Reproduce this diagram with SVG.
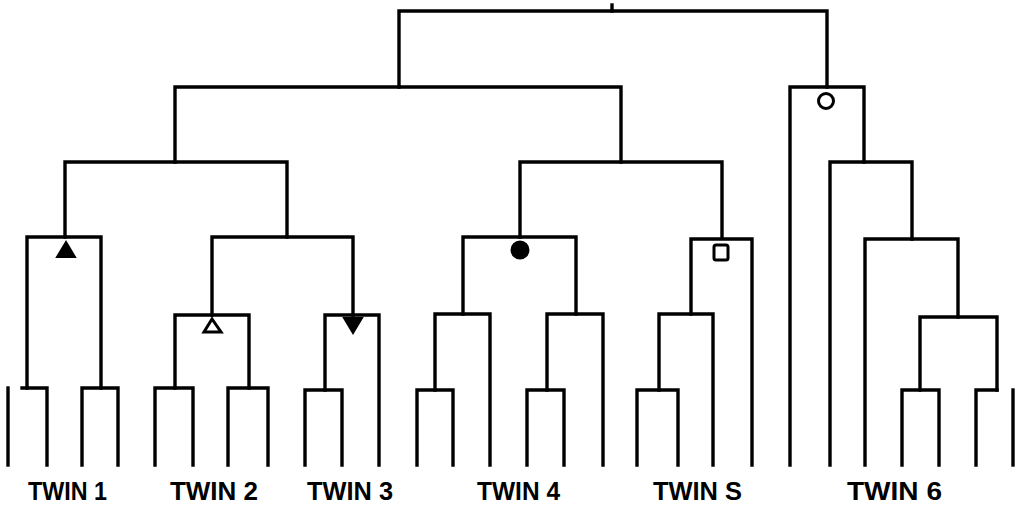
<svg xmlns="http://www.w3.org/2000/svg" width="1020" height="505" viewBox="0 0 1020 505">
<style>
.c{fill:none;stroke:#000;stroke-width:3.4;stroke-linejoin:miter;stroke-linecap:square}
.lbl{font-family:"Liberation Sans",Arial,sans-serif;font-weight:bold;font-size:25px;fill:#000}
.mf{fill:#000;stroke:#000;stroke-width:2}
.mo{fill:#fff;stroke:#000;stroke-width:3}
</style>
<rect width="1020" height="505" fill="#fff"/>
<g id="connectors" class="c">
<path d="M612 5V11"/>
<path d="M399 87V11H827V87"/>
<path d="M175 162V87H621V162"/>
<path d="M65 237V162H287V237"/>
<path d="M520 237V162H722V238"/>
<path d="M27 388V237H101V388"/>
<path d="M22 388H47V465"/>
<path d="M82 465V388H118V465"/>
<path d="M8 388V465"/>
<path d="M212 315V237H353V315"/>
<path d="M175 388V315H249V388"/>
<path d="M155 465V388H193V465"/>
<path d="M228 465V388H268V465"/>
<path d="M325 390V315H379V465"/>
<path d="M305 465V390H342V465"/>
<path d="M463 314V237H576V314"/>
<path d="M435 390V314H490V465"/>
<path d="M417 465V390H453V465"/>
<path d="M547 390V314H603V465"/>
<path d="M527 465V390H564V465"/>
<path d="M691 314V239H752V465"/>
<path d="M659 390V314H713V465"/>
<path d="M637 465V390H678V465"/>
<path d="M790 465V87H864V162"/>
<path d="M830 465V162H912V239"/>
<path d="M865 465V239H958V317"/>
<path d="M920 390V317H997V390"/>
<path d="M902 465V390H939V465"/>
<path d="M976 465V390H997"/>
<path d="M1013 390V465"/>
</g>
<g id="marker-twin1"><polygon class="mf" points="66,242 57,257 75,257"/></g>
<g id="marker-twin2"><polygon class="mo" points="212,319 204,332 221,332"/></g>
<g id="marker-twin3"><polygon class="mf" points="344,318 362,318 353,333"/></g>
<g id="marker-twin4"><circle class="mf" cx="520" cy="250" r="8.5"/></g>
<g id="marker-twin5"><rect class="mo" x="714" y="245" width="14" height="15" rx="2"/></g>
<g id="marker-twin6"><circle class="mo" cx="826" cy="101" r="7.5"/></g>
<g id="labels">
<text id="twin1" class="lbl" x="28" y="500" textLength="79" lengthAdjust="spacingAndGlyphs">TWIN 1</text>
<text id="twin2" class="lbl" x="170" y="500" textLength="88" lengthAdjust="spacingAndGlyphs">TWIN 2</text>
<text id="twin3" class="lbl" x="307" y="500" textLength="86" lengthAdjust="spacingAndGlyphs">TWIN 3</text>
<text id="twin4" class="lbl" x="477" y="500" textLength="83" lengthAdjust="spacingAndGlyphs">TWIN 4</text>
<text id="twin5" class="lbl" x="653" y="500" textLength="89" lengthAdjust="spacingAndGlyphs">TWIN S</text>
<text id="twin6" class="lbl" x="847" y="500" textLength="95" lengthAdjust="spacingAndGlyphs">TWIN 6</text>
</g>
</svg>
